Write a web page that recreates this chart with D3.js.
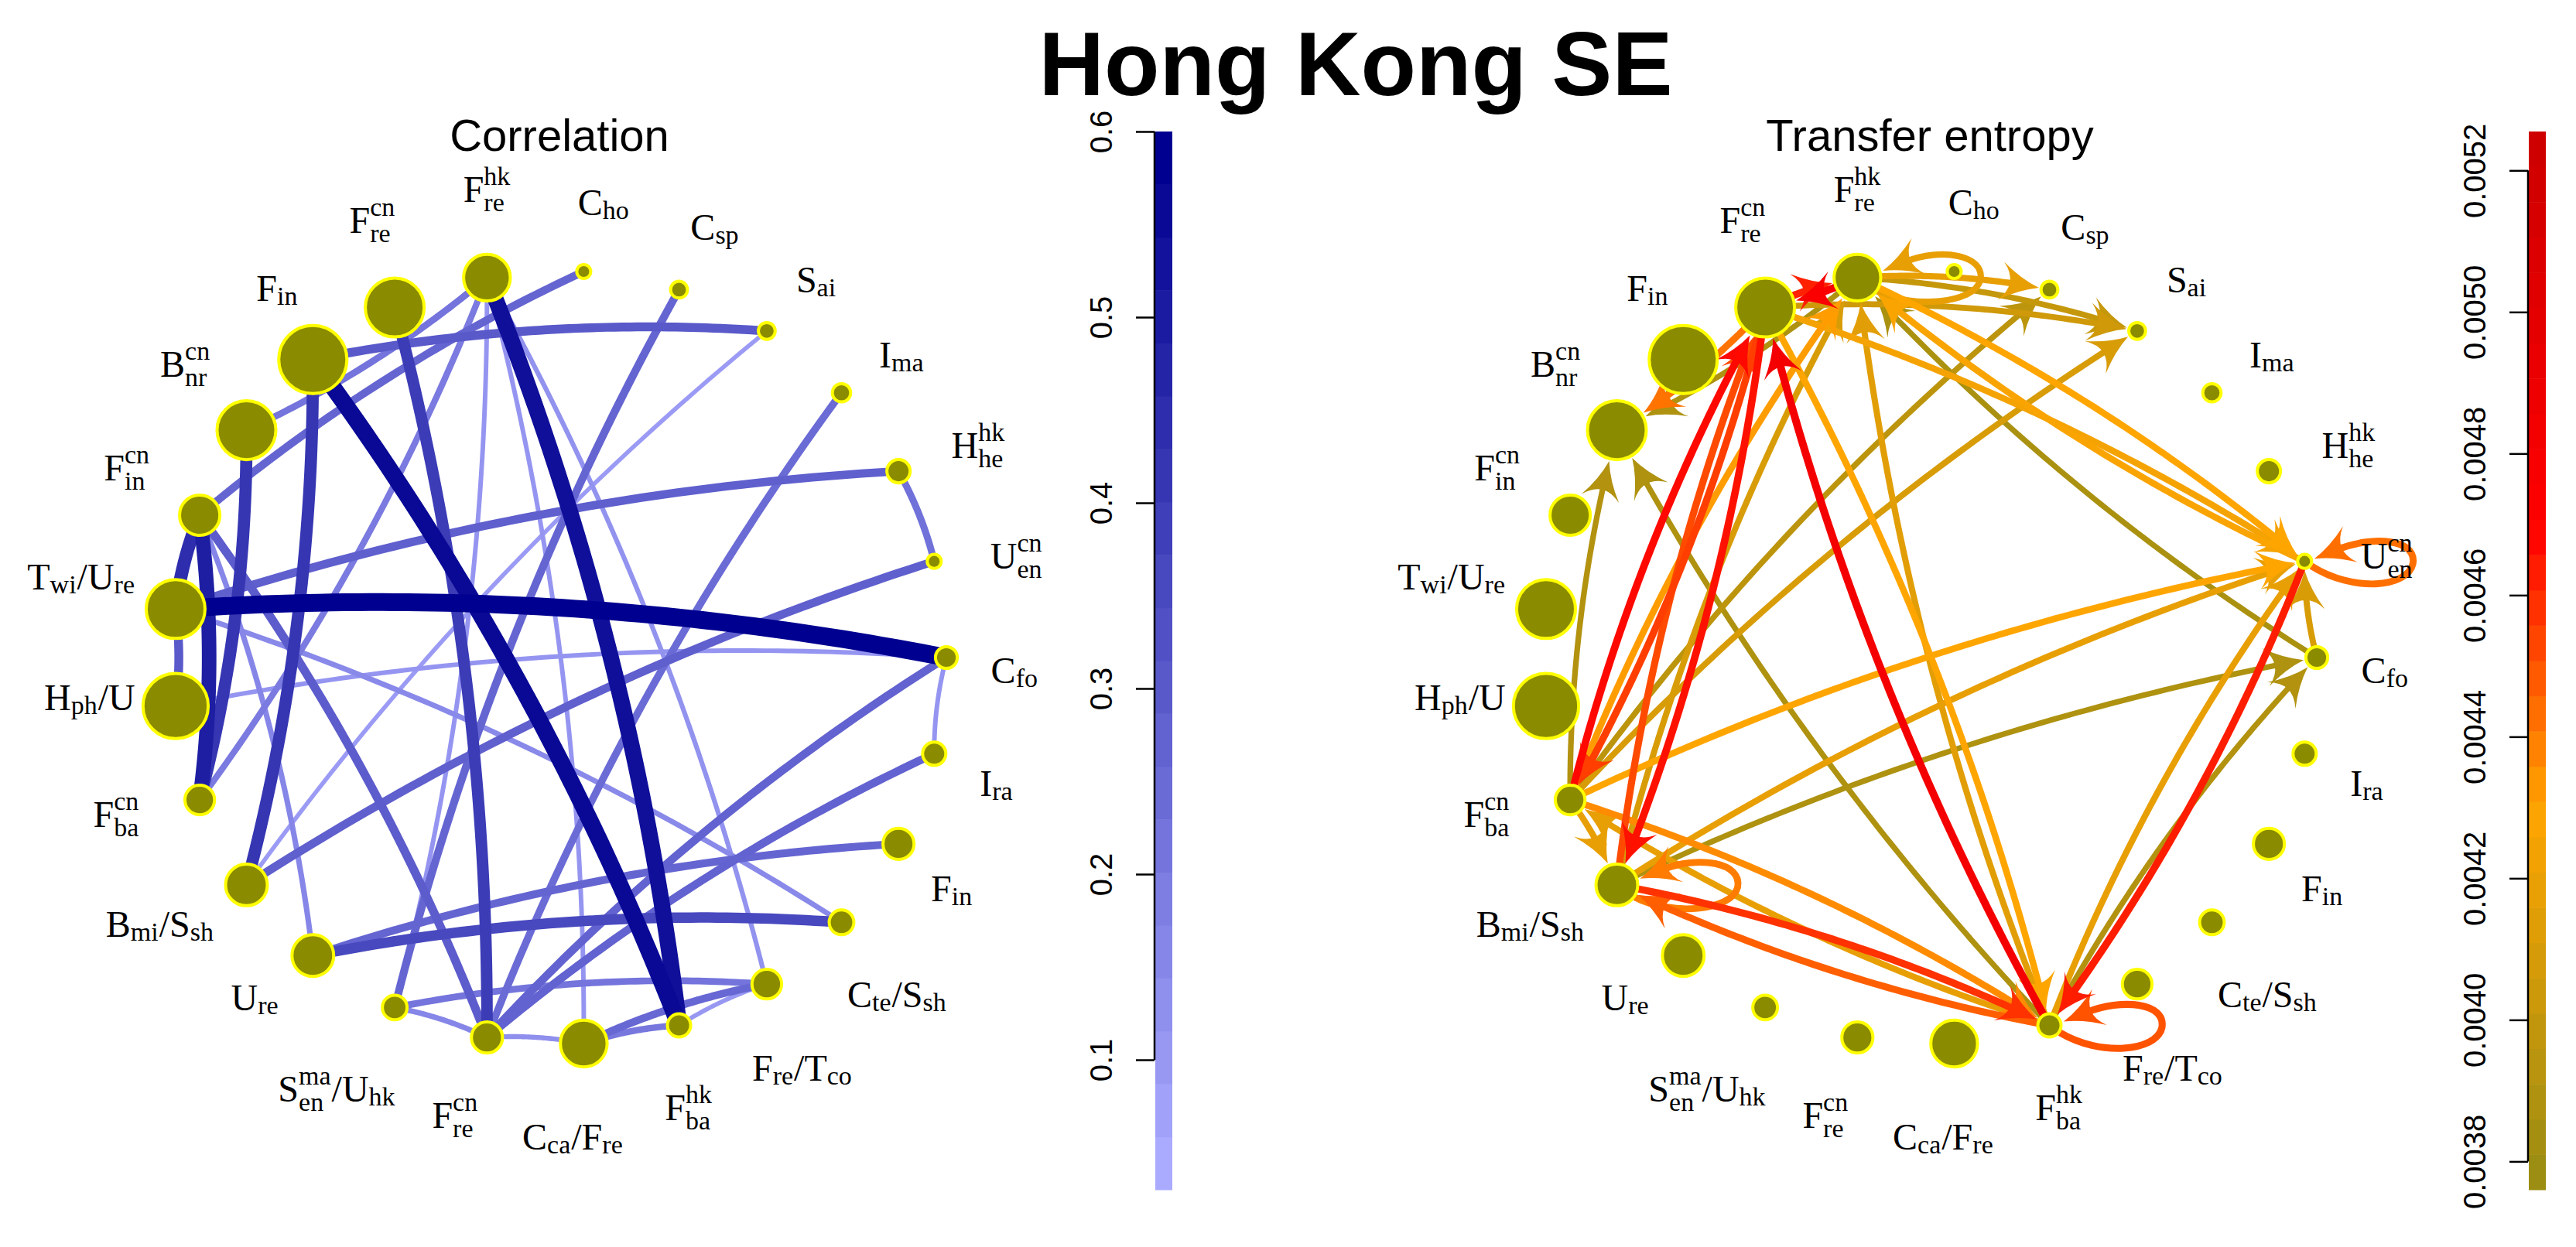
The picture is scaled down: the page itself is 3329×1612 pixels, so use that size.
<!DOCTYPE html>
<html><head><meta charset="utf-8">
<script src="https://cdn.jsdelivr.net/npm/d3@7"></script>
<style>body{margin:0;background:#fff}svg{display:block}</style>
</head><body>
<script>
// ---------------- DATA ----------------
const nodeLabels = ["C[fo]","U[en]^cn","H[he]^hk","I[ma]","S[ai]","C[sp]","C[ho]","F[re]^hk","F[re]^cn","F[in]",
  "B[nr]^cn","F[in]^cn","T[wi]/U[re]","H[ph]/U","F[ba]^cn","B[mi]/S[sh]","U[re]","S[en]^ma/U[hk]","F[re]^cn",
  "C[ca]/F[re]","F[ba]^hk","F[re]/T[co]","C[te]/S[sh]","F[in]","I[ra]"];
const nodeWeight = [0.35,0.24,0.37,0.30,0.28,0.28,0.24,0.70,0.87,1.00,
  0.87,0.61,0.87,0.96,0.46,0.63,0.63,0.39,0.48,0.70,0.37,0.46,0.39,0.48,0.37];

const corrFrom  = [12,9,7,11,12,9,10,8,16,12,12,15,9,11,18,18,16,11,17,18,19,17,2,7,7,19,11,17,18,7,7,7,12,13,15,20,24];
const corrTo    = [0,20,20,14,11,15,14,18,22,13,2,1,4,18,0,24,23,6,5,3,21,21,1,10,14,20,16,18,19,17,19,21,22,0,4,21,0];
const corrValue = [0.60,0.57,0.55,0.50,0.45,0.42,0.42,0.40,0.36,0.30,0.28,0.28,0.30,0.29,0.27,0.27,0.26,0.26,0.26,0.24,
  0.25,0.21,0.22,0.21,0.19,0.20,0.15,0.15,0.12,0.10,0.10,0.11,0.14,0.10,0.08,0.09,0.10];

const teFrom  = [20,14,8,8,15,15,20,14,20,14,1,20,20,20,20,8,20,14,8,7,1,7,1,8,14,15,0,15,0,14,14,7,7,8,7,8,7,14,15,15];
const teTo    = [8,8,14,15,8,20,15,20,14,15,20,1,0,20,7,20,10,10,10,10,1,1,7,1,1,1,1,0,7,5,4,5,4,4,7,7,8,7,7,15];
const teValue = [0.00482,0.00468,0.00455,0.00466,0.00452,0.00458,0.00447,0.00436,0.00418,0.00418,0.00463,0.00418,
  0.00390,0.00450,0.00415,0.00430,0.00388,0.00390,0.00442,0.00388,0.00443,0.00430,0.00427,0.00425,0.00430,0.00418,
  0.00410,0.00388,0.00386,0.00395,0.00410,0.00418,0.00400,0.00405,0.00418,0.00462,0.00475,0.00432,0.00410,0.00440];

const corrRange = [0.03, 0.6];
const corrTicks = [0.1,0.2,0.3,0.4,0.5,0.6];
const teRange = [0.00376, 0.005255];
const teTicks = [0.0038,0.0040,0.0042,0.0044,0.0046,0.0048,0.0050,0.0052];

const mainTitle = "Hong Kong SE";
const panelTitles = ["Correlation","Transfer entropy"];

// ---------------- SETUP ----------------
const W=3329, H=1612;
const svg=d3.select("body").append("svg").attr("width",W).attr("height",H);
svg.append("rect").attr("width",W).attr("height",H).attr("fill","#fff");
const SANS="Liberation Sans, Arial, Helvetica, sans-serif";
const SERIF="Liberation Serif, Times New Roman, serif";

const R=500, CY=850, panelCX=[723,2494];
const N=nodeLabels.length;
const ang=d3.scaleLinear().domain([0,N]).range([0,2*Math.PI]);
const rScale=d3.scaleLinear().domain([0,1]).range([0,46]);
const nodeR=nodeWeight.map(w=>rScale(w));
function pos(k,cx){return [cx+R*Math.cos(ang(k)), CY-R*Math.sin(ang(k))];}

const corrColor=d3.scaleLinear().domain(corrRange).range(["#AAAAFF","#000090"]).clamp(true);
const corrWidth=d3.scalePow().exponent(1.4).domain([0.05,0.6]).range([5,23]).clamp(true);
const teColor=d3.scaleLinear().domain([0.00376,0.0043,0.0047,0.005255]).range(["#978C14","#FFA500","#FF0000","#CC0000"]).clamp(true);
const teWidth=d3.scaleLinear().domain([0.0038,0.0048]).range([7,10]).clamp(true);

const AL=50, AW=50, BEND=0.066;

// titles
svg.append("text").attr("x",1752).attr("y",123).attr("text-anchor","middle")
  .attr("font-family",SANS).attr("font-weight","bold").attr("font-size",117).text(mainTitle);
panelTitles.forEach((t,i)=>svg.append("text").attr("x",panelCX[i]).attr("y",195).attr("text-anchor","middle")
  .attr("font-family",SANS).attr("font-size",58).text(t));

// geometry helpers
function quad(p0,c,p1,t){const u=1-t;return [u*u*p0[0]+2*u*t*c[0]+t*t*p1[0], u*u*p0[1]+2*u*t*c[1]+t*t*p1[1]];}
function ctrl(p0,p1){const dx=p1[0]-p0[0],dy=p1[1]-p0[1];return [(p0[0]+p1[0])/2+dy*BEND,(p0[1]+p1[1])/2-dx*BEND];}
function tAtDist(p0,c,p1,d){let lo=0.2,hi=1;for(let i=0;i<40;i++){const m=(lo+hi)/2;const q=quad(p0,c,p1,m);
  if(Math.hypot(q[0]-p1[0],q[1]-p1[1])>d) lo=m; else hi=m;}return (lo+hi)/2;}
const lineGen=d3.line();
function curvePts(p0,c,p1,t1){const pts=[];for(let i=0;i<=60;i++){pts.push(quad(p0,c,p1,t1*i/60));}return pts;}
const arrowD=`M0,0 Q${-0.5*AL},${-0.14*AW} ${-AL},${-AW/2} Q${-0.52*AL},0 ${-AL},${AW/2} Q${-0.5*AL},${0.14*AW} 0,0Z`;

// ---------------- LEFT: correlation ----------------
const gL=svg.append("g");
const corrEdges=corrFrom.map((f,i)=>({f,t:corrTo[i],v:corrValue[i]})).sort((a,b)=>a.v-b.v);
corrEdges.forEach(e=>{
  const p0=pos(e.f,panelCX[0]), p1=pos(e.t,panelCX[0]), c=ctrl(p0,p1);
  gL.append("path").attr("d",lineGen(curvePts(p0,c,p1,1))).attr("fill","none")
    .attr("stroke",corrColor(e.v)).attr("stroke-width",corrWidth(e.v));
});

// ---------------- RIGHT: transfer entropy ----------------
const gR=svg.append("g");
const teEdges=teFrom.map((f,i)=>({f,t:teTo[i],v:teValue[i]})).sort((a,b)=>a.v-b.v);
teEdges.forEach(e=>{
  const col=teColor(e.v), wd=teWidth(e.v);
  if(e.f===e.t){
    const [x,y]=pos(e.f,panelCX[1]); const r=nodeR[e.f];
    const E=130+0.9*r, h=31;
    const a=15*Math.PI/180, da=22*Math.PI/180;
    const tip=[x+(r+2)*Math.cos(a), y-(r+2)*Math.sin(a)];
    const dir=[-Math.cos(da), Math.sin(da)];
    const base=[tip[0]-dir[0]*0.62*AL, tip[1]-dir[1]*0.62*AL];
    const S=[x+r*0.8, y+r*0.55];
    const d=`M${S[0]},${S[1]} C${x+0.45*E},${y+1.3*h} ${x+0.95*E},${y+1.1*h} ${x+E},${y+0.1*h} C${x+1.04*E},${y-0.95*h} ${base[0]-dir[0]*50},${base[1]-dir[1]*50} ${base[0]},${base[1]}`;
    gR.append("path").attr("d",d).attr("fill","none").attr("stroke",col).attr("stroke-width",wd);
    gR.append("path").attr("d",arrowD).attr("fill",col)
      .attr("transform",`translate(${tip[0]},${tip[1]}) rotate(${Math.atan2(dir[1],dir[0])*180/Math.PI})`);
    return;
  }
  const p0=pos(e.f,panelCX[1]), p1=pos(e.t,panelCX[1]), c=ctrl(p0,p1);
  const rr=nodeR[e.t]+1;
  const tTip=tAtDist(p0,c,p1,rr), tEnd=tAtDist(p0,c,p1,rr+0.62*AL);
  const tip=quad(p0,c,p1,tTip), bk=quad(p0,c,p1,tTip-0.01);
  const angDeg=Math.atan2(tip[1]-bk[1],tip[0]-bk[0])*180/Math.PI;
  gR.append("path").attr("d",lineGen(curvePts(p0,c,p1,tEnd))).attr("fill","none").attr("stroke",col).attr("stroke-width",wd);
  gR.append("path").attr("d",arrowD).attr("fill",col).attr("transform",`translate(${tip[0]},${tip[1]}) rotate(${angDeg})`);
});

// ---------------- NODES & LABELS ----------------
function parseLabel(s){
  const toks=[];let i=0;
  while(i<s.length){
    const ch=s[i];
    if(ch==='['){const j=s.indexOf(']',i);const sub=s.slice(i+1,j);i=j+1;let sup=null;
      if(s[i]==='^'){let k=i+1;while(k<s.length&&/[a-z]/.test(s[k]))k++;sup=s.slice(i+1,k);i=k;}
      toks.push({type:'script',sub,sup});}
    else if(ch==='^'){let k=i+1;while(k<s.length&&/[a-z]/.test(s[k]))k++;toks.push({type:'script',sub:null,sup:s.slice(i+1,k)});i=k;}
    else{toks.push({type:'base',text:ch});i++;}
  }
  return toks;
}
function drawLabel(parent,str,lx,ly){
  const g=parent.append("g").attr("font-family",SERIF).attr("fill","#000");
  let x=0,hasSup=false,hasSub=false,stacked=false;
  parseLabel(str).forEach(t=>{
    if(t.type==='base'){const el=g.append("text").attr("x",x).attr("y",0).attr("font-size",48).text(t.text);x+=el.node().getComputedTextLength();}
    else{let w=0;
      if(t.sup){hasSup=true;const el=g.append("text").attr("x",x).attr("y",t.sub?-22:-20).attr("font-size",34).text(t.sup);w=Math.max(w,el.node().getComputedTextLength());}
      if(t.sub){hasSub=true;if(t.sup)stacked=true;const el=g.append("text").attr("x",x).attr("y",t.sup?12:5).attr("font-size",34).text(t.sub);w=Math.max(w,el.node().getComputedTextLength());}
      x+=w+1;}
  });
  const top=hasSup?-45:-33, bottom=stacked?15:(hasSub?8:0);
  g.attr("transform",`translate(${lx-x/2},${ly-(top+bottom)/2})`);
}
panelCX.forEach(cx=>{
  const gn=svg.append("g");
  nodeLabels.forEach((lab,k)=>{
    const [x,y]=pos(k,cx);
    gn.append("circle").attr("cx",x).attr("cy",y).attr("r",nodeR[k]-2).attr("fill","#8B8B00").attr("stroke","#FFFF00").attr("stroke-width",4);
  });
  nodeLabels.forEach((lab,k)=>{
    const off=6+0.3*nodeR[k]+100*Math.log10(lab.length+1);
    const a=ang(k)-2*Math.PI/180, rr=R+off;
    drawLabel(svg,lab,cx+rr*Math.cos(a),CY-rr*Math.sin(a));
  });
});

// ---------------- COLOR BARS ----------------
function colorBar(x0,scale,range,nSeg,colorFn,ticks,fmt){
  const g=svg.append("g");
  const step=(range[1]-range[0])/nSeg;
  for(let i=0;i<nSeg;i++){
    const lo=range[0]+i*step, hi=lo+step;
    g.append("rect").attr("x",x0+1).attr("y",scale(hi)).attr("width",22).attr("height",scale(lo)-scale(hi)+0.5)
      .attr("fill",colorFn(i,lo,hi));
  }
  const ax=svg.append("g").attr("transform",`translate(${x0},0)`)
    .call(d3.axisLeft(scale).tickValues(ticks).tickSize(24).tickFormat(fmt));
  ax.select(".domain").remove();
  ax.append("line").attr("x1",0).attr("x2",0).attr("y1",scale(ticks[0])).attr("y2",scale(ticks[ticks.length-1]))
    .attr("stroke","#000").attr("stroke-width",2.5);
  ax.selectAll(".tick line").attr("stroke","#000").attr("stroke-width",2.5);
  ax.selectAll(".tick text").attr("transform","rotate(-90)").attr("x",0).attr("y",-55).attr("dy",0)
    .attr("text-anchor","middle").attr("font-size",40).attr("font-family",SANS).attr("fill","#000");
}
const corrY=d3.scaleLinear().domain(corrRange).range([1538,170]);
const corrInterp=d3.interpolateRgb("#AAAAFF","#000090");
colorBar(1492,corrY,corrRange,20,(i)=>corrInterp(i/19),corrTicks,d3.format(".1f"));
const teY=d3.scaleLinear().domain(teRange).range([1538,170]);
colorBar(3267,teY,teRange,30,(i,lo,hi)=>teColor((lo+hi)/2),teTicks,d3.format(".4f"));
</script>
</body></html>
